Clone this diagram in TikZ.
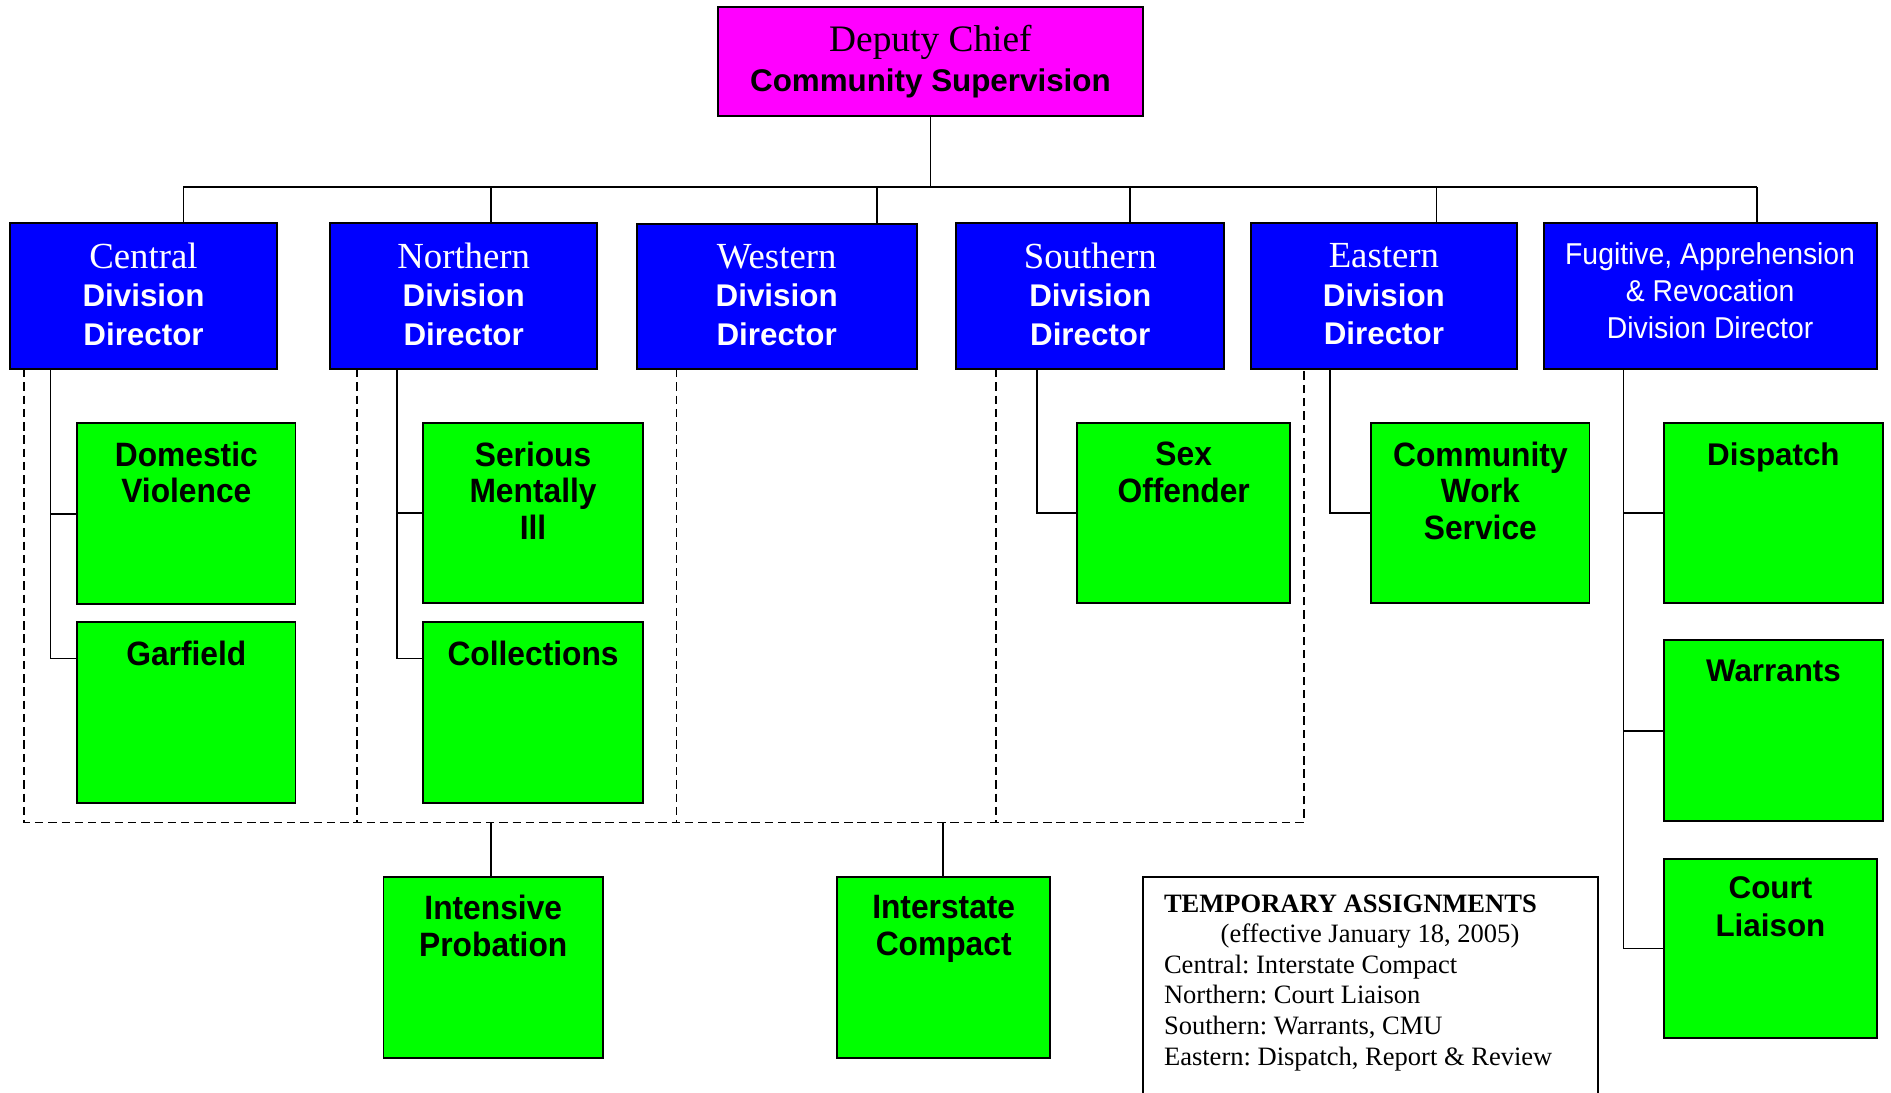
\documentclass[tikz,border=0pt]{standalone}
\usepackage{fontspec}
\setmainfont{Liberation Serif}
\newfontfamily\ars{Liberation Sans}
\newfontfamily\arn{Liberation Sans}[FakeStretch=0.94]
\definecolor{mag}{RGB}{255,0,255}
\definecolor{bl}{RGB}{0,0,255}
\definecolor{gr}{RGB}{0,255,0}
\frenchspacing
\begin{document}
\begin{tikzpicture}[x=1pt,y=-1pt,
 box/.style={draw=black,line width=1.6pt,inner sep=0pt,outer sep=0pt,anchor=center},
 bluebox/.style={box,fill=bl,text=white,align=center,minimum height=121pt,font=\ars\bfseries\fontsize{26}{32}\selectfont},
 greenbox/.style={box,fill=gr,minimum height=150pt},
 gtext/.style={anchor=north,inner sep=0pt,align=center,font=\arn\bfseries\fontsize{28}{30.5}\selectfont},
 rtext/.style={anchor=north,inner sep=0pt,align=center,font=\ars\bfseries\fontsize{26}{31}\selectfont},
 conn/.style={line width=1.3pt},
 dashconn/.style={line width=1.5pt,dash pattern=on 7pt off 4pt}]
\useasboundingbox (0,0) rectangle (1568,906);
\fill[white] (0,0) rectangle (1568,906);

% top
\node[box,fill=mag,minimum width=353pt,minimum height=90pt,align=center,
  font=\ars\bfseries\fontsize{26}{33}\selectfont] (deputy) at (771.5,51)
  {{\rmfamily\mdseries\fontsize{31}{33}\selectfont Deputy Chief}\\Community Supervision};

% division directors
\node[bluebox,minimum width=222pt] (central) at (119,245.5) {};
\node[bluebox,minimum width=221pt] (northern) at (384.5,245.5) {};
\node[bluebox,minimum width=232pt,minimum height=120pt] (western) at (644,246) {};
\node[bluebox,minimum width=222pt] (southern) at (904,245.5) {};
\node[bluebox,minimum width=221pt] (eastern) at (1147.5,245.5) {};
\node[bluebox,minimum width=276pt] (fugitive) at (1418,245.5) {};
\tikzset{btext/.style={inner sep=0pt,text=white,align=center,font=\ars\bfseries\fontsize{26}{32}\selectfont}}
\node[btext] (centralt) at ([yshift=1.5pt]central.center)
  {{\rmfamily\mdseries\fontsize{30.5}{32}\selectfont Central}\\Division\\Director};
\node[btext] (northernt) at ([yshift=1.5pt]northern.center)
  {{\rmfamily\mdseries\fontsize{30.5}{32}\selectfont Northern}\\Division\\Director};
\node[btext] (westernt) at ([yshift=1.5pt]western.center)
  {{\rmfamily\mdseries\fontsize{30.5}{32}\selectfont Western}\\Division\\Director};
\node[btext] (southernt) at ([yshift=1.5pt]southern.center)
  {{\rmfamily\mdseries\fontsize{30.5}{32}\selectfont Southern}\\Division\\Director};
\node[btext] (easternt) at ([yshift=1.5pt]eastern.center)
  {{\rmfamily\mdseries\fontsize{30.5}{32}\selectfont Eastern}\\Division\\Director};
\node[btext,font=\arn\mdseries\fontsize{25}{30.5}\selectfont] (fugitivet) at ([yshift=4.5pt]fugitive.center)
  {Fugitive, Apprehension\\\& Revocation\\Division Director};

% units
\node[greenbox,minimum width=181pt] (dv) at (154.5,426) {};
\node[gtext] (dvt) at ([yshift=-15pt]dv.north) {Domestic\\Violence};
\node[greenbox,minimum width=181pt] (garf) at (154.5,591) {};
\node[gtext] (garft) at ([yshift=-15pt]garf.north) {Garfield};
\node[greenbox,minimum width=182pt,minimum height=149pt] (smi) at (442,425.5) {};
\node[gtext] (smit) at ([yshift=-15pt]smi.north) {Serious\\Mentally\\Ill};
\node[greenbox,minimum width=182pt] (coll) at (442,591) {};
\node[gtext] (collt) at ([yshift=-15pt]coll.north) {Collections};
\node[greenbox,minimum width=177pt,minimum height=149pt] (sex) at (981.5,425.5) {};
\node[gtext] (sext) at ([yshift=-15pt]sex.north) {Sex\\Offender};
\node[greenbox,minimum width=181pt,minimum height=149pt] (cws) at (1227.5,425.5) {};
\node[gtext] (cwst) at ([yshift=-15pt]cws.north) {Community\\Work\\Service};
\node[greenbox,minimum width=181pt,minimum height=149pt] (disp) at (1470.5,425.5) {};
\node[rtext] (dispt) at ([yshift=-16pt]disp.north) {Dispatch};
\node[greenbox,minimum width=181pt] (warr) at (1470.5,606) {};
\node[rtext] (warrt) at ([yshift=-16pt]warr.north) {Warrants};
\node[greenbox,minimum width=176pt,minimum height=149pt] (court) at (1468,786.5) {};
\node[rtext] (courtt) at ([yshift=-15pt]court.north) {Court\\Liaison};
\node[greenbox,minimum width=182pt] (ip) at (409,802) {};
\node[gtext] (ipt) at ([yshift=-15pt]ip.north) {Intensive\\Probation};
\node[greenbox,minimum width=177pt] (ic) at (782.5,802) {};
\node[gtext] (ict) at ([yshift=-15pt]ic.north) {Interstate\\Compact};

% top bus
\coordinate (b1) at (152,155);
\coordinate (b2) at (407,155);
\coordinate (b3) at (727,155);
\coordinate (b4) at (937,155);
\coordinate (b5) at (1191,155);
\coordinate (b6) at (1457,155);
\draw[conn] (deputy.south) -- (deputy.south |- b1);
\draw[conn] (b1) -- (b6);
\draw[conn] (b1) -- (b1 |- central.north);
\draw[conn] (b2) -- (b2 |- northern.north);
\draw[conn] (b3) -- (b3 |- western.north);
\draw[conn] (b4) -- (b4 |- southern.north);
\draw[conn] (b5) -- (b5 |- eastern.north);
\draw[conn] (b6) -- (b6 |- fugitive.north);

% solid branches
\coordinate (cx) at (42,0);
\draw[conn] (cx |- central.south) |- ([yshift=-30pt]garf.north west);
\draw[conn] (cx |- dv.west) -- (dv.west);
\coordinate (nx) at (329,0);
\draw[conn] (nx |- northern.south) |- ([yshift=-30pt]coll.north west);
\draw[conn] (nx |- smi.west) -- (smi.west);
\coordinate (sx) at (860,0);
\draw[conn] (sx |- southern.south) |- (sex.west);
\coordinate (ex) at (1103,0);
\draw[conn] (ex |- eastern.south) |- (cws.west);
\coordinate (fx) at (1346,0);
\draw[conn] (fx |- fugitive.south) |- (court.west);
\draw[conn] (fx |- disp.west) -- (disp.west);
\draw[conn] (fx |- warr.west) -- (warr.west);

% dashed enclosure
\coordinate (d0) at (20,682);
\coordinate (d1) at (296,682);
\coordinate (d2) at (561,682);
\coordinate (d3) at (826,682);
\coordinate (d4) at (1081,682);
\draw[dashconn] (d0 |- central.south) -- (d0) -- (d4) -- (d4 |- eastern.south);
\draw[dashconn] (d1 |- northern.south) -- (d1);
\draw[dashconn] (d2 |- western.south) -- (d2);
\draw[dashconn] (d3 |- southern.south) -- (d3);
\coordinate (ipx) at (407,682);
\draw[conn] (ipx) -- (ipx |- ip.north);
\coordinate (icx) at (782,682);
\draw[conn] (icx) -- (icx |- ic.north);

% temporary assignments
\coordinate (tbl) at (948,906);
\coordinate (tbr) at (1325,906);
\draw[line width=1.5pt] (tbl) |- (1325,727) -- (tbr);
\node[anchor=north west,inner sep=0pt,align=left,font=\fontsize{22}{25.4}\selectfont] (temp) at (965,741.5)
  {\textbf{TEMPORARY ASSIGNMENTS}\\
   \hspace*{47pt}(effective January 18, 2005)\\
   Central: Interstate Compact\\
   Northern: Court Liaison\\
   Southern: Warrants, CMU\\
   Eastern: Dispatch, Report \& Review};
\end{tikzpicture}
\end{document}
